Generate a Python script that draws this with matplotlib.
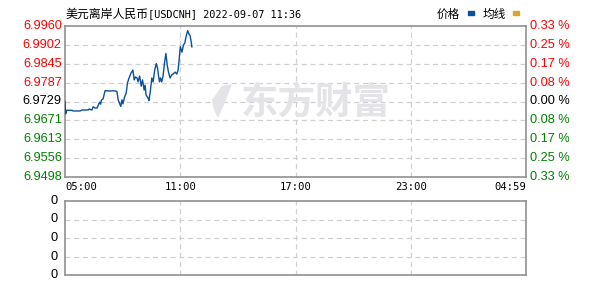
import matplotlib
matplotlib.use("Agg")
import matplotlib.pyplot as plt
from matplotlib.patches import Rectangle

# ---------------- data ----------------
title_cn = "美元离岸人民币"
title_en = "[USDCNH] 2022-09-07 11:36"
legend_labels = ["价格", "均线"]
watermark = "东方财富"

# minutes after 05:00 and price
minutes = [0, 2, 5, 22, 25, 47, 53, 72, 75, 84, 88, 94, 100, 108, 111, 114, 119,
           125, 141, 150, 162, 166, 170, 174, 178, 181, 186, 191, 195, 200, 206,
           212, 216, 220, 225, 228, 233, 238, 242, 247, 250, 253, 259, 262, 266,
           271, 275, 280, 285, 289, 292, 295, 298, 302, 306, 311, 315, 319, 323,
           328, 333, 337, 344, 349, 353, 357, 360, 365, 370, 374, 378, 383, 387,
           390, 393, 396]
prices = [6.9729, 6.9691, 6.9702, 6.9702, 6.9700, 6.9700, 6.9703, 6.9703, 6.9706,
          6.9703, 6.9713, 6.9709, 6.9709, 6.9727, 6.9721, 6.9734, 6.9737, 6.9762,
          6.9761, 6.9762, 6.9760, 6.9734, 6.9724, 6.9714, 6.9734, 6.9722, 6.9743,
          6.9755, 6.9786, 6.9801, 6.9816, 6.9825, 6.9795, 6.9804, 6.9801, 6.9789,
          6.9807, 6.9776, 6.9795, 6.9764, 6.9779, 6.9749, 6.9740, 6.9732, 6.9758,
          6.9801, 6.9789, 6.9825, 6.9845, 6.9831, 6.9807, 6.9789, 6.9801, 6.9789,
          6.9807, 6.9850, 6.9876, 6.9841, 6.9819, 6.9801, 6.9810, 6.9813, 6.9819,
          6.9813, 6.9825, 6.9865, 6.9897, 6.9880, 6.9902, 6.9908, 6.9928, 6.9946,
          6.9935, 6.9932, 6.9917, 6.9896]

y_ticks = [6.9960, 6.9902, 6.9845, 6.9787, 6.9729, 6.9671, 6.9613, 6.9556, 6.9498]
y_labels = ["6.9960", "6.9902", "6.9845", "6.9787", "6.9729", "6.9671", "6.9613", "6.9556", "6.9498"]
pct_labels = ["0.33 %", "0.25 %", "0.17 %", "0.08 %", "0.00 %", "0.08 %", "0.17 %", "0.25 %", "0.33 %"]
x_ticks = [0, 360, 720, 1080, 1439]
x_labels = ["05:00", "11:00", "17:00", "23:00", "04:59"]
vol_labels = ["0", "0", "0", "0", "0"]

# ---------------- figure ----------------
W, H = 591, 286
fig = plt.figure(figsize=(W / 100, H / 100), dpi=100)

def px_axes(l, t, r, b):
    return fig.add_axes([l / W, 1 - b / H, (r - l) / W, (b - t) / H])

RED, BLACK, GREEN = "#ff0000", "#000000", "#008000"
FRAME = "#909090"
GRID = "#d0d0d0"
LINE = "#0b4fa0"
WM = "#e4e4e8"
cols = [RED] * 4 + [BLACK] + [GREEN] * 4

ax = px_axes(65, 26, 526, 177)
ax.set_xlim(0, 1439)
ax.set_ylim(y_ticks[-1], y_ticks[0])
for s in ax.spines.values():
    s.set_color(FRAME)
    s.set_linewidth(1.2)
ax.set_xticks([])
ax.set_yticks([])
for v in y_ticks[1:-1]:
    ax.axhline(v, color=GRID, lw=0.9, ls=(0, (4, 3)), zorder=0)
for v in x_ticks[1:-1]:
    ax.axvline(v, color=GRID, lw=0.9, ls=(0, (4, 3)), zorder=0)

# watermark (placed in axes-fraction coordinates)
ax.text((316 - 65) / 461, 1 - (103 - 26) / 151, watermark, transform=ax.transAxes,
        fontsize=27, fontweight="bold", color=WM,
        family=["Noto Sans CJK SC"], ha="center", va="center", zorder=0.5)
# stylised logo mark left of the watermark text
from matplotlib.patches import Polygon
logo = Polygon([[(212 - 65) / 461, 1 - (100 - 26) / 151],
                [(222 - 65) / 461, 1 - (86 - 26) / 151],
                [(232 - 65) / 461, 1 - (84 - 26) / 151],
                [(226 - 65) / 461, 1 - (100 - 26) / 151],
                [(218 - 65) / 461, 1 - (118 - 26) / 151],
                [(214 - 65) / 461, 1 - (110 - 26) / 151]],
               closed=True, transform=ax.transAxes, color=WM, zorder=0.5, lw=0)
ax.add_patch(logo)

ax.plot(minutes, prices, color=LINE, lw=1.0, zorder=3)

tr_l = ax.get_yaxis_transform()
for v, lab, c in zip(y_ticks, y_labels, cols):
    ax.text(-0.007, v, lab, transform=tr_l, ha="right", va="center", fontsize=9.2,
            color=c, family="Liberation Sans")
for v, lab, c in zip(y_ticks, pct_labels, cols):
    ax.text(1.009, v, lab, transform=tr_l, ha="left", va="center", fontsize=9.2,
            color=c, family="Liberation Sans")

tr_x = ax.get_xaxis_transform()
aligns = ["left", "center", "center", "center", "right"]
for v, lab, a in zip(x_ticks, x_labels, aligns):
    ax.text(v, -0.065, lab, transform=tr_x, ha=a, va="center", fontsize=7.6,
            color="black", family="DejaVu Sans Mono")

# volume axes
ax2 = px_axes(65, 201, 526, 275)
ax2.set_xlim(0, 1439)
ax2.set_ylim(0, 4)
for s in ax2.spines.values():
    s.set_color(FRAME)
    s.set_linewidth(1.2)
ax2.set_xticks([])
ax2.set_yticks([])
for v in [1, 2, 3]:
    ax2.axhline(v, color=GRID, lw=0.9, ls=(0, (4, 3)), zorder=0)
for v in x_ticks[1:-1]:
    ax2.axvline(v, color=GRID, lw=0.9, ls=(0, (4, 3)), zorder=0)
tr2 = ax2.get_yaxis_transform()
for i, lab in enumerate(vol_labels):
    ax2.text(-0.017, 4 - i, lab, transform=tr2, ha="right", va="center", fontsize=9.2,
             color="black", family="Liberation Sans")

# title
fig.text(65 / W, 1 - 14 / H, title_cn, fontsize=8.6, family=["Noto Sans CJK SC"],
         ha="left", va="center", color="black")
fig.text(148 / W, 1 - 14 / H, title_en, fontsize=7.4, family="DejaVu Sans Mono",
         ha="left", va="center", color="black")

# legend
fig.text(437 / W, 1 - 14 / H, legend_labels[0], fontsize=8.4, family=["Noto Sans CJK SC"],
         ha="left", va="center", color="black")
fig.text(483 / W, 1 - 14 / H, legend_labels[1], fontsize=8.4, family=["Noto Sans CJK SC"],
         ha="left", va="center", color="black")
fig.patches.append(Rectangle((468 / W, 1 - 14.5 / H), 6 / W, 3 / H, transform=fig.transFigure,
                             color=LINE, figure=fig))
fig.patches.append(Rectangle((513 / W, 1 - 14.5 / H), 6 / W, 3 / H, transform=fig.transFigure,
                             color="#d8a528", figure=fig))

fig.savefig("out.png", dpi=100)
